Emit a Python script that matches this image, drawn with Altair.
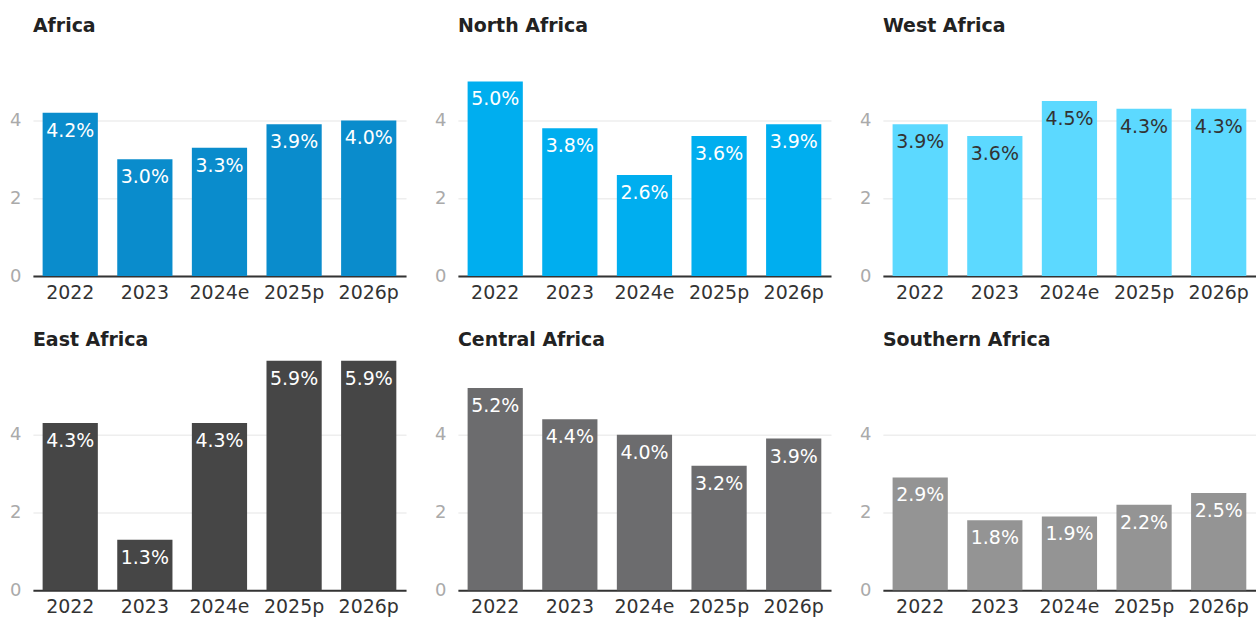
import altair as alt
import pandas as pd

years = ["2022", "2023", "2024e", "2025p", "2026p"]
regions = ["Africa", "North Africa", "West Africa", "East Africa", "Central Africa", "Southern Africa"]
africa = [4.2, 3.0, 3.3, 3.9, 4.0]
north_africa = [5.0, 3.8, 2.6, 3.6, 3.9]
west_africa = [3.9, 3.6, 4.5, 4.3, 4.3]
east_africa = [4.3, 1.3, 4.3, 5.9, 5.9]
central_africa = [5.2, 4.4, 4.0, 3.2, 3.9]
southern_africa = [2.9, 1.8, 1.9, 2.2, 2.5]
series = [africa, north_africa, west_africa, east_africa, central_africa, southern_africa]
bar_colors = ["#0a8ccc", "#00aeef", "#5cd9ff", "#464646", "#6c6c6e", "#949494"]
label_colors = ["#ffffff", "#ffffff", "#333333", "#ffffff", "#ffffff", "#ffffff"]

FONT = "DejaVu Sans"


def panel(name, values, color, text_color):
    df = pd.DataFrame({"year": years, "growth": values})
    df["label"] = [f"{v:.1f}%" for v in values]
    x = alt.X(
        "year:N",
        sort=years,
        title=None,
        scale=alt.Scale(paddingInner=0.26, paddingOuter=0.13),
        axis=alt.Axis(
            labelAngle=0,
            labelFontSize=19,
            labelColor="#333333",
            labelFont=FONT,
            labelPadding=7,
            ticks=False,
            domainColor="#333333",
            domainWidth=2,
            grid=False,
        ),
    )
    y = alt.Y(
        "growth:Q",
        title=None,
        scale=alt.Scale(domain=[0, 6], nice=False),
        axis=alt.Axis(
            values=[0, 2, 4],
            labelFontSize=18,
            labelColor="#aaaaaa",
            labelFont=FONT,
            labelPadding=12,
            ticks=False,
            domain=False,
            grid=True,
            gridColor="#eeeeee",
            gridWidth=1.5,
            minExtent=26,
            maxExtent=26,
        ),
    )
    base = alt.Chart(df)
    bars = base.mark_bar(color=color).encode(x=x, y=y)
    text = base.mark_text(
        baseline="top", dy=9, color=text_color, fontSize=19, font=FONT
    ).encode(x=x, y=y, text="label:N")
    return alt.layer(bars, text).properties(
        width=374,
        height=234,
        title=alt.TitleParams(
            name,
            anchor="start",
            frame="group",
            fontSize=19,
            fontWeight="bold",
            color="#222222",
            font=FONT,
            offset=7,
        ),
    )


panels = [panel(n, v, c, t) for n, v, c, t in zip(regions, series, bar_colors, label_colors)]
row1 = alt.hconcat(*panels[:3], spacing=26)
row2 = alt.hconcat(*panels[3:], spacing=26)
chart = (
    alt.vconcat(row1, row2, spacing=29)
    .properties(padding={"left": 7, "top": 16, "right": 0, "bottom": 0})
    .configure(background="#ffffff")
    .configure_view(stroke=None)
)
chart.save("out.html", embed_options={"renderer": "svg", "actions": False})
